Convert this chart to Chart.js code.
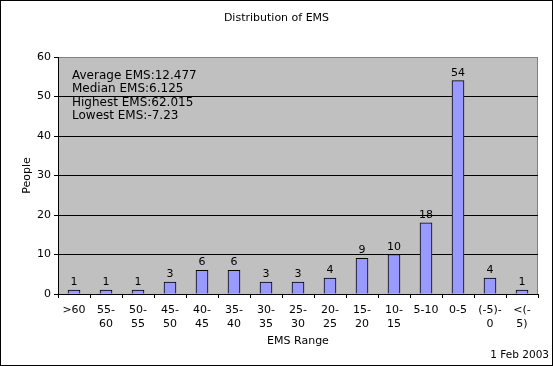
<!DOCTYPE html>
<html>
<head>
<meta charset="utf-8">
<script src="https://cdn.jsdelivr.net/npm/chart.js@4/dist/chart.umd.min.js"></script>
<style>
  html, body { margin: 0; padding: 0; background: #fff; }
  #wrap { width: 553px; height: 366px; position: relative; }
  #emsChart { display: block; }
</style>
</head>
<body>
<div id="wrap"><canvas id="emsChart" width="553" height="366"></canvas></div>
<script>
const ranges = [['>60'], ['55-', '60'], ['50-', '55'], ['45-', '50'], ['40-', '45'], ['35-', '40'],
    ['30-', '35'], ['25-', '30'], ['20-', '25'], ['15-', '20'], ['10-', '15'], ['5-10'], ['0-5'],
    ['(-5)-', '0'], ['<(-', '5)']];
const people = [1, 1, 1, 3, 6, 6, 3, 3, 4, 9, 10, 18, 54, 4, 1];
const yTicks = [0, 10, 20, 30, 40, 50, 60];
const statLines = ['Average EMS:12.477', 'Median EMS:6.125', 'Highest EMS:62.015', 'Lowest EMS:-7.23'];
const chartTitle = 'Distribution of EMS';
const xTitle = 'EMS Range';
const yTitle = 'People';
const footNote = '1 Feb 2003';

const FONT = 'Tahoma, "DejaVu Sans", sans-serif';

// grey plot background, border, titles, stats box, value labels
const decorations = {
    id: 'decorations',
    beforeDraw(chart) {
        const { ctx, chartArea: a } = chart;
        ctx.save();
        ctx.fillStyle = '#fff';
        ctx.fillRect(0, 0, chart.width, chart.height);
        ctx.strokeStyle = '#000';
        ctx.lineWidth = 1;
        ctx.strokeRect(0.5, 0.5, chart.width - 1, chart.height - 1);
        ctx.fillStyle = '#c0c0c0';
        ctx.fillRect(a.left, a.top, a.right - a.left, a.bottom - a.top);
        ctx.strokeStyle = '#808080';
        ctx.strokeRect(a.left + 0.5, a.top + 0.5, a.right - a.left - 1, a.bottom - a.top);
        ctx.restore();
    },
    afterDraw(chart) {
        const { ctx, chartArea: a } = chart;
        ctx.save();
        ctx.fillStyle = '#000';
        ctx.textBaseline = 'middle';

        ctx.font = '11px ' + FONT;
        ctx.textAlign = 'center';
        ctx.fillText(chartTitle, chart.width / 2, 18);
        ctx.fillText(xTitle, (a.left + a.right) / 2, 341);

        ctx.font = '10.5px ' + FONT;
        ctx.textAlign = 'right';
        ctx.fillText(footNote, chart.width - 4, 355);

        ctx.font = '11px ' + FONT;
        ctx.save();
        ctx.translate(27, (a.top + a.bottom) / 2);
        ctx.rotate(-Math.PI / 2);
        ctx.textAlign = 'center';
        ctx.fillText(yTitle, 0, 0);
        ctx.restore();

        ctx.font = '12px ' + FONT;
        ctx.textAlign = 'left';
        statLines.forEach((s, i) => ctx.fillText(s, a.left + 14, a.top + 19 + i * 13.3));

        ctx.font = '11px ' + FONT;
        ctx.textAlign = 'center';
        ctx.textBaseline = 'alphabetic';
        const meta = chart.getDatasetMeta(0);
        meta.data.forEach((bar, i) => {
            ctx.fillText(String(people[i]), bar.x, bar.y - 5);
        });
        ctx.restore();
    }
};

new Chart(document.getElementById('emsChart'), {
    type: 'bar',
    data: {
        labels: ranges,
        datasets: [{
            label: yTitle,
            data: people,
            backgroundColor: '#9999ff',
            borderColor: '#000',
            borderWidth: 1,
            borderSkipped: 'bottom',
            barThickness: 12
        }]
    },
    options: {
        responsive: false,
        animation: false,
        devicePixelRatio: 1,
        layout: { padding: { left: 0, right: 15, top: 57, bottom: 0 } },
        plugins: {
            legend: { display: false },
            tooltip: { enabled: false },
            title: { display: false }
        },
        scales: {
            x: {
                grid: {
                    offset: true,
                    drawOnChartArea: false,
                    drawTicks: true,
                    tickLength: 4,
                    color: '#000'
                },
                border: { color: '#000', width: 1 },
                ticks: {
                    color: '#000',
                    font: { family: FONT, size: 11, lineHeight: 1.27 },
                    padding: 5,
                    maxRotation: 0,
                    autoSkip: false
                },
                afterFit(scale) { scale.height = 366 - 294; }
            },
            y: {
                min: 0,
                max: 60,
                afterBuildTicks(scale) { scale.ticks = yTicks.map(v => ({ value: v })); },
                grid: {
                    color: ctx => (ctx.tick && ctx.tick.value === 60 ? '#808080' : '#000'),
                    tickColor: '#000',
                    tickLength: 4,
                    drawTicks: true
                },
                border: { color: '#000', width: 1 },
                ticks: {
                    color: '#000',
                    font: { family: FONT, size: 11 },
                    padding: 3
                },
                afterFit(scale) { scale.width = 58; }
            }
        }
    },
    plugins: [decorations]
});
</script>
</body>
</html>
